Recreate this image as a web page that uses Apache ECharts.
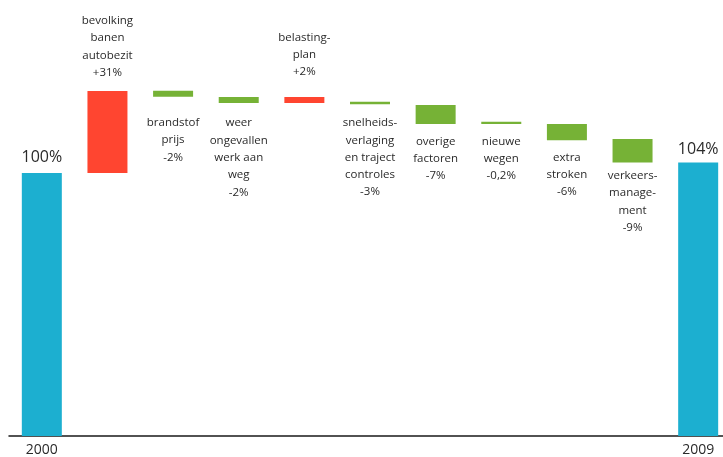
<!DOCTYPE html>
<html>
<head>
<meta charset="utf-8">
<script src="https://cdn.jsdelivr.net/npm/echarts@6/dist/echarts.min.js"></script>
<style>html,body{margin:0;padding:0;background:#fff}#c{width:723px;height:457px}</style>
</head>
<body>
<div id="c"></div>
<script>
// ---- data ----
const categories = ['2000', 'bevolking banen autobezit', 'brandstofprijs', 'weer ongevallen werk aan weg',
  'belastingplan', 'snelheidsverlaging en trajectcontroles', 'overige factoren', 'nieuwe wegen',
  'extra stroken', 'verkeersmanagement', '2009'];
const categoryLines = [
  [],
  ['bevolking', 'banen', 'autobezit'],
  ['brandstof', 'prijs'],
  ['weer', 'ongevallen', 'werk aan', 'weg'],
  ['belasting-', 'plan'],
  ['snelheids-', 'verlaging', 'en traject', 'controles'],
  ['overige', 'factoren'],
  ['nieuwe', 'wegen'],
  ['extra', 'stroken'],
  ['verkeers-', 'manage-', 'ment'],
  []
];
const valueLabels = ['100%', '+31%', '-2%', '-2%', '+2%', '-3%', '-7%', '-0,2%', '-6%', '-9%', '104%'];
const kinds = ['total', 'up', 'down', 'down', 'up', 'down', 'down', 'down', 'down', 'down', 'total'];
// bar drawn from barBase to barBase + barSize (percent)
const barBase = [0, 100, 129, 126.6, 126.6, 126.1, 118.6, 118.6, 112.5, 104, 0];
const barSize = [100, 31.2, 2.3, 2.3, 2.3, 1, 7.3, 0.9, 6.1, 8.9, 104];
const tickLabels = ['2000', '', '', '', '', '', '', '', '', '', '2009'];

// ---- layout / style (not data) ----
const colors = { total: '#1CAFD0', up: '#FF4530', down: '#76B236' };
const labelGap = [6, 9.5, 17.5, 11.5, 16.5, 10, 8.5, 8.5, 8.5, 4.5, 3];

const chart = echarts.init(document.getElementById('c'), null, { renderer: 'canvas' });

const visibleData = barSize.map((v, i) => {
  const k = kinds[i];
  const isTotal = k === 'total';
  return {
    value: v,
    itemStyle: { color: colors[k] },
    label: {
      show: true,
      position: k === 'down' ? 'bottom' : 'top',
      distance: labelGap[i],
      formatter: isTotal ? valueLabels[i] : categoryLines[i].concat([valueLabels[i]]).join('\n'),
      fontFamily: 'Open Sans',
      fontSize: isTotal ? 16 : 11.5,
      lineHeight: isTotal ? 20 : 17.3,
      color: '#2a2a2a',
      align: 'center'
    }
  };
});

chart.setOption({
  animation: false,
  backgroundColor: '#fff',
  grid: { left: 9, width: 722, top: 41.5, bottom: 21, containLabel: false, outerBoundsMode: 'none' },
  xAxis: {
    type: 'category',
    data: categories,
    axisLine: { show: true, lineStyle: { color: '#1a1a1a', width: 1.5 } },
    axisTick: { show: false },
    axisLabel: {
      interval: 0,
      margin: 6,
      fontFamily: 'Open Sans',
      fontSize: 14,
      lineHeight: 16,
      color: '#2a2a2a',
      formatter: (v, i) => tickLabels[i]
    },
    splitLine: { show: false }
  },
  yAxis: {
    type: 'value', min: 0, max: 150, show: false,
    splitLine: { show: false }
  },
  series: [
    {
      type: 'bar', stack: 'w', barWidth: 40, silent: true,
      itemStyle: { color: 'transparent' },
      data: barBase
    },
    {
      type: 'bar', stack: 'w', barWidth: 40,
      data: visibleData
    }
  ]
});
</script>
</body>
</html>
